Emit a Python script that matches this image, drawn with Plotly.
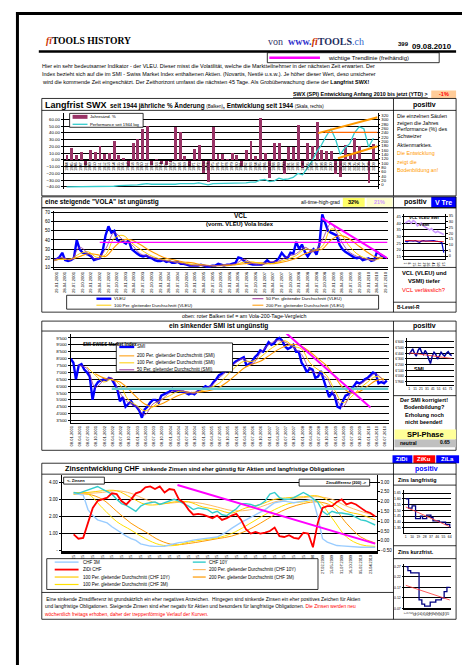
import plotly.graph_objects as go
import pandas as pd

# Page is rendered inside a browser body with 8px default margin -> compensate
W, H = 470, 668
OFF = 8
FW, FH = W - OFF, H - OFF

# ---------------- DATA ----------------
# Chart 1: Langfrist SWX (annual % change, performance line)
swx_years = list(range(1944, 2010))
swx_change = [6, 17, 7, 11, -8, 14, 11, 20, 8, 10,
              27, 6, 3, -10, 24, 30, 45, 50, -8, -2,
              -7, -8, -3, 48, 40, 5, -10, 16, 21, -20,
              -33, 48, 8, 8, -2, 10, 6, -10, 14, 28,
              5, 62, 10, -28, 25, 24, -22, 18, 18, 51,
              -12, 24, 20, 56, 14, 12, 12, -22, -26, 22,
              7, 32, 20, 0, -34, 23]
swx_perf = [-40, -40, -40, -40, -40, -40, -40, -40, -40, -39,
            -39, -38, -38, -38, -37, -37, -36, -35, -36, -36,
            -37, -37, -37, -36, -35, -35, -36, -35, -34, -35,
            -37, -35, -35, -35, -35, -35, -35, -35, -34, -33,
            -33, -30, -29, -32, -31, -27, -29, -28, -26, -20,
            -22, -12, -2, 12, 22, 35, 46, 30, 8, 18,
            24, 40, 49, 46, 19, 32]
swx_trend_up_x = [1997.3, 2009.9]
swx_trend_up_y = [238, 311]
swx_trend_lo_x = [2001.5, 2009.9]
swx_trend_lo_y = [123, 178]
swx_trend_h_x = [1998.7, 2009.9]
swx_trend_h_y = [242, 242]

# Chart 2: VCL (VLEU) monthly from Jan 2001
vleu = [18, 19, 21, 26, 18, 17, 18, 20, 40, 30, 26, 25,
        24, 22, 18, 19, 20, 28, 45, 55, 48, 50, 40, 38,
        38, 36, 40, 30, 27, 25, 23, 22, 23, 21, 20, 18,
        17, 17, 18, 16, 17, 15, 15, 16, 14, 14, 13, 12,
        12, 12, 12, 13, 12, 11, 11, 12, 12, 14, 13, 12,
        13, 13, 14, 15, 21, 20, 17, 15, 14, 13, 13, 13,
        13, 15, 18, 15, 15, 17, 20, 26, 22, 20, 26, 25,
        38, 30, 35, 27, 22, 27, 30, 24, 35, 68, 58, 50,
        48, 46, 45, 35, 30, 27, 25, 23, 21, 20, 21, 18,
        19, 20, 17, 18, 27, 24, 22, 21]
# quarterly moving averages from Jan 2001
vleu_ma50 = [18, 21, 18, 32, 25, 19, 30, 48, 40, 35, 25, 22, 19, 17, 16, 14,
             12, 12, 12, 12, 13, 14, 19, 14, 13, 16, 17, 22, 25, 32, 27, 40,
             58, 42, 28, 22, 19, 18, 24]
vleu_ma100 = [18, 19, 19, 25, 27, 21, 24, 42, 45, 37, 30, 24, 20, 18, 16, 15,
              13, 12, 12, 12, 13, 13, 16, 16, 14, 14, 16, 19, 23, 30, 29, 33,
              52, 48, 35, 25, 20, 18, 21]
vleu_ma200 = [18, 19, 19, 22, 25, 24, 22, 32, 40, 40, 35, 29, 24, 20, 18, 16,
              15, 13, 12, 12, 12, 13, 14, 15, 15, 14, 15, 17, 20, 25, 28, 30,
              40, 45, 42, 35, 28, 22, 20]
vcl_hline_x = ['2002-05-01', '2010-08-20']
vcl_hline_y = [37.5, 37.5]
vcl_trend_x = ['2008-09-27', '2010-08-20']
vcl_trend_y = [64, 20]

# Chart 3: SMI monthly from Jan 2001
smi = [8000, 7700, 6500, 7500, 7600, 7200, 7000, 6700, 5000, 6000, 6300, 6400,
       6500, 6400, 6600, 6500, 6200, 5800, 4900, 5200, 4500, 4700, 4900, 4600,
       4500, 4200, 3700, 4300, 4500, 4800, 5000, 5000, 4800, 5300, 5400, 5500,
       5600, 5800, 5600, 5700, 5600, 5600, 5500, 5400, 5500, 5400, 5600, 5700,
       5800, 6000, 5900, 6000, 6300, 6500, 6800, 6900, 7100, 7100, 7500, 7600,
       7800, 7900, 8000, 8100, 7500, 7600, 7800, 8100, 8300, 8600, 8500, 8800,
       9200, 9000, 9100, 9400, 9500, 9300, 8900, 8700, 8800, 9000, 8500, 8500,
       7700, 7400, 7000, 7300, 7200, 6600, 6700, 7100, 6500, 5800, 5200, 5500,
       5300, 4500, 4400, 4900, 5300, 5400, 5800, 6000, 6300, 6200, 6300, 6500,
       6600, 6800, 7000, 6900, 6200, 6300, 6200, 6400]
smi_ma200 = [6900, 6600, 6450, 6300, 5800, 5200, 4700, 4500, 4700, 5000, 5300, 5500,
             5550, 5600, 5700, 5900, 6300, 6800, 7300, 7600, 7800, 8200, 8600, 8900,
             9050, 8900, 8500, 8000, 7500, 6700, 5900, 5500, 5600, 6000, 6400, 6500]
smi_ma100 = [7400, 6800, 6300, 6500, 6100, 5000, 4600, 4200, 4500, 5000, 5300, 5600,
             5600, 5500, 5700, 5900, 6200, 6800, 7400, 7800, 7800, 8100, 8600, 9000,
             9300, 8900, 8700, 7700, 7200, 6800, 5700, 4800, 5200, 5800, 6300, 6700, 6500]
smi_ma50 = [7500, 7300, 5900, 6400, 6600, 5500, 4800, 4500, 3900, 4700, 5000, 5500,
            5700, 5600, 5500, 5800, 6000, 6600, 7100, 7700, 8000, 7600, 8400, 9000,
            9300, 9200, 8800, 8300, 7200, 6900, 6600, 5300, 4500, 5500, 6100, 6500, 6900, 6300]
smi_hline_x = ['2002-04-01', '2010-08-20']
smi_hline_y = [5800, 5800]
smi_trend_x = ['2007-06-01', '2010-02-01']
smi_trend_y = [10100, 4440]

# Chart 4: Zinsen CHF (64 observation points)
zins_idx = list(range(64))
zidi = [0.95, 0.7, 0.75, 1.6, 2.5, 2.9, 3.0, 3.1, 3.35, 3.3, 2.9, 2.7, 3.0, 3.35, 3.45, 3.7,
        3.75, 3.6, 3.75, 3.4, 3.6, 3.55, 3.0, 2.8, 2.4, 2.1, 2.15, 2.1, 2.0, 1.9, 2.05, 1.8,
        1.9, 2.05, 2.15, 1.8, 1.25, 1.0, 1.1, 1.0, 1.05, 1.15, 1.35, 0.85, 0.8, 0.9, 0.75, 0.7,
        1.05, 1.0, 0.2, 1.6, 2.5, 2.6, 2.6, 2.85, 3.0, 2.7, 2.8, 2.7, 2.5, 2.3, 2.2, 2.0]
chf10y = [3.4, 3.35, 3.45, 3.55, 3.65, 3.75, 3.6, 3.45, 3.3, 3.0, 2.75, 2.65, 2.5, 2.3, 2.6, 2.75,
          2.8, 2.85, 2.7, 2.8, 2.9, 3.0, 2.9, 2.75, 2.6, 2.4, 2.5, 2.45, 2.4, 2.2, 2.3, 2.1,
          2.05, 2.25, 2.45, 2.75, 2.75, 2.7, 2.6, 2.7, 2.9, 3.3, 3.4, 3.1, 3.0, 3.0, 3.1, 3.25,
          3.4, 3.25, 3.05, 2.85, 2.3, 2.1, 2.3, 2.2, 2.2, 2.15, 2.1, 1.95, 1.8, 1.75, 1.6, 1.5]
chf3m = [3.35, 3.3, 3.25, 2.4, 2.05, 1.8, 1.7, 1.62, 1.4, 1.2, 1.0, 0.85, 0.7, 0.6, 0.4, 0.33,
         0.27, 0.25, 0.25, 0.26, 0.33, 0.42, 0.47, 0.5, 0.57, 0.62, 0.66, 0.69, 0.72, 0.77, 0.8, 0.95,
         1.1, 1.3, 1.5, 1.65, 1.8, 1.95, 2.1, 2.25, 2.4, 2.6, 2.8, 2.85, 2.9, 2.85, 2.8, 2.85,
         2.9, 2.95, 3.0, 2.0, 0.7, 0.5, 0.4, 0.3, 0.28, 0.25, 0.25, 0.22, 0.2, 0.2, 0.2, 0.2]
zins_ma_idx = [0, 3, 6, 9, 12, 15, 18, 21, 24, 27, 30, 33, 36, 39, 42, 45, 48, 51, 54, 57, 60, 63]
ma100_10y = [3.4, 3.4, 3.5, 3.5, 3.1, 2.7, 2.7, 2.85, 2.85, 2.55, 2.4, 2.2, 2.5, 2.7, 3.0, 3.1,
             3.15, 3.2, 2.8, 2.3, 2.1, 1.8]
ma200_10y = [3.35, 3.35, 3.4, 3.5, 3.35, 3.0, 2.75, 2.8, 2.85, 2.75, 2.55, 2.35, 2.35, 2.55, 2.85,
             3.0, 3.1, 3.15, 3.0, 2.6, 2.3, 2.05]
ma100_3m = [3.3, 3.3, 2.5, 1.7, 1.2, 0.7, 0.35, 0.3, 0.5, 0.63, 0.75, 1.0, 1.45, 1.95, 2.4, 2.75,
            2.85, 2.9, 1.9, 0.8, 0.35, 0.25]
ma200_3m = [3.3, 3.3, 3.0, 2.3, 1.6, 1.1, 0.6, 0.35, 0.42, 0.55, 0.7, 0.85, 1.15, 1.6, 2.1, 2.5,
            2.75, 2.85, 2.6, 1.6, 0.8, 0.45]
zins_trend_x = [21.7, 63]
zins_trend_y = [2.85, -0.14]
zins_tickpos = list(range(0, 64, 2))
zins_ticktext = ['25'] * 25 + ['12.12.2008', '27.02.2009', '15.05.2009', '31.07.2009',
                               '16.10.2009', '05.02.2010', '23.04.2010']

# Small chart A: VCL / VSMI
a_idx = [1, 4, 7, 10, 13, 16, 19, 22, 25, 28, 31, 34, 37, 40, 43, 46, 49, 52, 55, 58]
a_vsmi = [40, 41, 42, 40, 42, 41, 38, 39, 40, 38, 37, 36, 35, 36, 34, 33, 34, 33, 32, 31.5]
a_vcl = [13, 12.5, 13.5, 13, 13, 13.5, 13, 12, 13, 13.5, 13, 13.2, 12.8, 13, 13.5, 13, 13, 12.5, 12, 3]
a_trend_x = [1, 58]
a_trend_y = [13.6, 12.6]
a_ticks = [1, 8, 15, 22, 29, 36, 43, 50, 57]

# Small chart B: SMI short term
b_idx = [1, 4, 7, 10, 13, 16, 19, 22, 25, 28, 31, 34, 37, 40, 43, 46, 49, 52, 55, 58, 61, 64, 67, 70, 73]
b_smi = [6380, 6420, 6480, 6400, 6350, 6450, 6500, 6420, 6380, 6450, 6400, 6300, 6220, 6350, 6420,
         6380, 6300, 6350, 6420, 6380, 6350, 6400, 6430, 6380, 6360]
b_trend_x = [1, 73]
b_trend_y = [6410, 6310]
b_ticks = [1, 11, 21, 31, 41, 51, 61, 71]

# Small chart C: Zins langfristig
c_idx = [1, 3, 5, 8, 10, 12, 15, 19, 22, 25, 28, 31, 34, 37, 40, 43, 46, 49, 52, 55, 58, 61, 64]
c_val = [1.60, 1.60, 1.52, 1.52, 1.54, 1.54, 1.43, 1.43, 1.45, 1.43, 1.43, 1.46, 1.46, 1.44, 1.41,
         1.41, 1.41, 1.40, 1.40, 1.40, 1.38, 1.38, 1.35]
c_trend_x = [1, 64]
c_trend_y = [1.53, 1.36]
c_ticks = [1, 10, 19, 28, 37, 46, 55, 64]

# Small chart D: Zins kurzfristig
d_idx = [1, 4, 8, 12, 16, 20, 24, 28, 32, 36, 40, 44, 48, 52, 56, 60, 64]
d_val = [0.27, 0.25, 0.24, 0.24, 0.24, 0.11, 0.09, 0.08, 0.08, 0.10, 0.10, 0.11, 0.11, 0.12,
         0.15, 0.17, 0.17]
d_trend_x = [1, 64]
d_trend_y = [0.18, 0.11]
d_ticks = [1, 5, 9, 13, 17, 21, 25, 29, 33, 37, 41, 45, 49, 53, 57, 61]

# ---------------- HELPERS ----------------
FONT = 'Liberation Sans'
SERIF = 'Liberation Serif'


def PXn(x):
    return (x - OFF) / FW


def PYn(y):
    return 1 - (y - OFF) / FH


def DX(a, b):
    return [PXn(a), PXn(b)]


def DY(top, bottom):
    return [PYn(bottom), PYn(top)]


shapes = []
annotations = []


def line(x0, y0, x1, y1, color='black', width=0.8):
    shapes.append(dict(type='line', xref='paper', yref='paper', x0=PXn(x0), y0=PYn(y0),
                       x1=PXn(x1), y1=PYn(y1), line=dict(color=color, width=width)))


def rect(x0, y0, x1, y1, color='black', width=0.8, fill='rgba(0,0,0,0)'):
    shapes.append(dict(type='rect', xref='paper', yref='paper', x0=PXn(x0), y0=PYn(y0),
                       x1=PXn(x1), y1=PYn(y1), fillcolor=fill,
                       line=dict(color=color, width=width)))


def text(x, y, s, size=5, color='black', anchor='left', family=FONT):
    annotations.append(dict(xref='paper', yref='paper', x=PXn(x), y=PYn(y), text=s,
                            showarrow=False, xanchor=anchor, yanchor='middle', borderpad=0,
                            font=dict(size=size, color=color, family=family)))


def tf(size=4.3):
    return dict(family=FONT, size=size, color='black')


fig = go.Figure()

# ---------------- CHART 1 ----------------
fig.add_trace(go.Bar(x=swx_years, y=swx_change, width=0.62,
                     marker=dict(color='#993366', line=dict(width=0)), xaxis='x', yaxis='y'))
fig.add_trace(go.Scatter(x=swx_years, y=swx_perf, mode='lines',
                         line=dict(color='#33CCCC', width=1.3), xaxis='x', yaxis='y'))
for tx, ty, col, w in [(swx_trend_up_x, swx_trend_up_y, '#FF9900', 2),
                       (swx_trend_lo_x, swx_trend_lo_y, '#FF9900', 2),
                       (swx_trend_h_x, swx_trend_h_y, '#FF6600', 1.2)]:
    fig.add_trace(go.Scatter(x=tx, y=ty, mode='lines', line=dict(color=col, width=w),
                             xaxis='x', yaxis='y2'))

# ---------------- CHART 2 (VCL) ----------------
vcl_months = pd.date_range('2001-01-01', periods=len(vleu), freq='MS').strftime('%Y-%m-%d').tolist()
vcl_quarters = pd.date_range('2001-01-01', periods=len(vleu_ma50), freq='QS').strftime('%Y-%m-%d').tolist()
fig.add_trace(go.Scatter(x=vcl_months, y=vleu, mode='lines', line=dict(color='#0000FF', width=2.4),
                         xaxis='x2', yaxis='y3'))
for arr, col, w in [(vleu_ma200, '#FF9900', 1.1), (vleu_ma100, '#FFCC00', 1.0), (vleu_ma50, '#993399', 0.8)]:
    fig.add_trace(go.Scatter(x=vcl_quarters, y=arr, mode='lines', line=dict(color=col, width=w, shape='spline'),
                             xaxis='x2', yaxis='y3'))
fig.add_trace(go.Scatter(x=vcl_hline_x, y=vcl_hline_y, mode='lines', line=dict(color='#FF00FF', width=1.3),
                         xaxis='x2', yaxis='y3'))
fig.add_trace(go.Scatter(x=vcl_trend_x, y=vcl_trend_y, mode='lines', line=dict(color='#FF00FF', width=2),
                         xaxis='x2', yaxis='y3'))

# ---------------- CHART 3 (SMI) ----------------
smi_months = pd.date_range('2001-01-01', periods=len(smi), freq='MS').strftime('%Y-%m-%d').tolist()
fig.add_trace(go.Scatter(x=smi_months, y=smi, mode='lines', line=dict(color='#0000FF', width=2.4),
                         xaxis='x3', yaxis='y4'))
for arr, start, col, w in [(smi_ma200, '2001-10-01', '#FF9900', 1.1),
                           (smi_ma100, '2001-07-01', '#FFCC00', 1.0),
                           (smi_ma50, '2001-04-01', '#993399', 0.8)]:
    dts = pd.date_range(start, periods=len(arr), freq='QS').strftime('%Y-%m-%d').tolist()
    fig.add_trace(go.Scatter(x=dts, y=arr, mode='lines', line=dict(color=col, width=w, shape='spline'),
                             xaxis='x3', yaxis='y4'))
fig.add_trace(go.Scatter(x=smi_hline_x, y=smi_hline_y, mode='lines', line=dict(color='#66CCCC', width=2.5),
                         xaxis='x3', yaxis='y4'))
fig.add_trace(go.Scatter(x=smi_trend_x, y=smi_trend_y, mode='lines', line=dict(color='#FF00FF', width=2),
                         xaxis='x3', yaxis='y4'))

# ---------------- CHART 4 (Zinsen) ----------------
for arr, col, w in [(ma200_3m, '#FF9900', 1.0), (ma100_3m, '#FFE000', 1.0),
                    (ma200_10y, '#FFBB66', 1.0), (ma100_10y, '#FFCC00', 1.0)]:
    fig.add_trace(go.Scatter(x=zins_ma_idx, y=arr, mode='lines', line=dict(color=col, width=w, shape='spline'),
                             xaxis='x4', yaxis='y5'))
fig.add_trace(go.Scatter(x=zins_idx, y=chf3m, mode='lines', line=dict(color='#99CCFF', width=1.4),
                         xaxis='x4', yaxis='y5'))
fig.add_trace(go.Scatter(x=zins_idx, y=chf10y, mode='lines', line=dict(color='#33CCCC', width=1.4),
                         xaxis='x4', yaxis='y5'))
fig.add_trace(go.Scatter(x=zins_idx, y=zidi, mode='lines', line=dict(color='#FF0000', width=1.8),
                         xaxis='x4', yaxis='y5'))
fig.add_trace(go.Scatter(x=zins_trend_x, y=zins_trend_y, mode='lines', line=dict(color='#FF00FF', width=2),
                         xaxis='x4', yaxis='y6'))

# ---------------- SMALL CHARTS ----------------
fig.add_trace(go.Scatter(x=a_idx, y=a_vsmi, mode='lines', line=dict(color='#CC99FF', width=1.6),
                         xaxis='x5', yaxis='y7'))
fig.add_trace(go.Scatter(x=a_idx, y=a_vcl, mode='lines', line=dict(color='#0000CC', width=1.2),
                         xaxis='x5', yaxis='y8'))
fig.add_trace(go.Scatter(x=a_trend_x, y=a_trend_y, mode='lines', line=dict(color='#FF0000', width=0.8),
                         xaxis='x5', yaxis='y8'))
fig.add_trace(go.Scatter(x=b_idx, y=b_smi, mode='lines', line=dict(color='#000099', width=1.5),
                         xaxis='x6', yaxis='y9'))
fig.add_trace(go.Scatter(x=b_trend_x, y=b_trend_y, mode='lines', line=dict(color='#FF3333', width=0.8),
                         xaxis='x6', yaxis='y9'))
fig.add_trace(go.Scatter(x=c_idx, y=c_val, mode='lines', line=dict(color='#000080', width=1.3, shape='hv'),
                         xaxis='x7', yaxis='y10'))
fig.add_trace(go.Scatter(x=c_trend_x, y=c_trend_y, mode='lines', line=dict(color='#FF3333', width=0.8),
                         xaxis='x7', yaxis='y10'))
fig.add_trace(go.Scatter(x=d_idx, y=d_val, mode='lines', line=dict(color='#000080', width=1.3, shape='hv'),
                         xaxis='x8', yaxis='y11'))
fig.add_trace(go.Scatter(x=d_trend_x, y=d_trend_y, mode='lines', line=dict(color='#FF3333', width=0.8),
                         xaxis='x8', yaxis='y11'))

# ---------------- AXES ----------------
base_x = dict(showgrid=False, zeroline=False, showline=True, linecolor='black', linewidth=0.8,
              ticks='', fixedrange=True)
base_y = dict(showgrid=True, gridcolor='black', gridwidth=0.6, zeroline=False, showline=True,
              linecolor='black', linewidth=0.8, ticks='outside', ticklen=2, tickwidth=0.6,
              tickcolor='black', fixedrange=True)

layout_axes = dict(
    xaxis=dict(base_x, domain=DX(62, 378), range=[1943.37, 2009.9], anchor='free',
               position=PYn(159.8), tickvals=swx_years, ticktext=[str(y) for y in swx_years],
               tickangle=-90, tickfont=tf(3.8)),
    yaxis=dict(base_y, domain=DY(113, 189), range=[-42.9, 68.8], anchor='x',
               tickvals=list(range(-40, 70, 10)), tickformat='.2f', tickfont=tf(4.3)),
    yaxis2=dict(base_y, overlaying='y', side='right', anchor='x', range=[-18.3, 329],
                tickvals=list(range(0, 340, 20)), showgrid=False, tickfont=tf(4.2)),
    xaxis2=dict(base_x, domain=DX(52, 388), anchor='y3', type='date',
                range=['2001-01-01', '2010-08-20'], tick0='2001-01-29', dtick='M3',
                tickformat='%d.%m.%Y', tickangle=-90, tickfont=tf(4.2)),
    yaxis3=dict(base_y, domain=DY(211, 270), anchor='x2', range=[7.8, 72],
                tickvals=list(range(10, 80, 10)), tickfont=tf(4.5)),
    xaxis3=dict(base_x, domain=DX(69, 389), anchor='y4', type='date',
                range=['2001-01-01', '2010-08-20'], tick0='2001-01-08', dtick='M3',
                tickformat='%d.%m.%Y', tickangle=-90, tickfont=tf(4.1)),
    yaxis4=dict(base_y, domain=DY(335, 425), anchor='x3', range=[3283, 9789],
                tickvals=list(range(3500, 10000, 500)), tickformat=',d', tickfont=tf(4.4)),
    xaxis4=dict(base_x, domain=DX(60, 377), anchor='y5', range=[-2.5, 63.3],
                tickvals=zins_tickpos, ticktext=zins_ticktext, tickangle=-90, tickfont=tf(3.8),
                linewidth=2.5),
    yaxis5=dict(base_y, domain=DY(477, 553), anchor='x4', range=[0, 4.41],
                tickvals=[0, 1, 2, 3, 4], ticktext=['-', '1.00', '2.00', '3.00', '4.00'],
                tickfont=tf(4.5)),
    yaxis6=dict(base_y, overlaying='y5', side='right', anchor='x4', range=[-0.5, 3.355],
                tickvals=[-0.5, 0, 0.5, 1, 1.5, 2, 2.5, 3], tickformat='.2f', showgrid=False,
                tickfont=tf(4.5)),
    xaxis5=dict(base_x, domain=DX(405, 446), anchor='y7', range=[0, 60], tickvals=a_ticks,
                tickfont=tf(3.2)),
    yaxis7=dict(base_y, domain=DY(214, 260), anchor='x5', range=[13, 47],
                tickvals=list(range(15, 50, 5)), tickfont=tf(3.8)),
    yaxis8=dict(base_y, overlaying='y7', side='right', anchor='x5', range=[-3, 37],
                tickvals=list(range(0, 40, 5)), showgrid=False, tickfont=tf(3.8)),
    xaxis6=dict(base_x, domain=DX(408, 455), anchor='y9', range=[-2, 77], tickvals=b_ticks,
                tickfont=tf(3.4)),
    yaxis9=dict(base_y, domain=DY(339, 386), anchor='x6', range=[5847, 6670],
                tickvals=list(range(5900, 6700, 100)), tickformat=',d', tickfont=tf(3.5)),
    xaxis7=dict(base_x, domain=DX(405, 452), anchor='y10', range=[-1, 66], tickvals=c_ticks,
                tickfont=tf(3.4)),
    yaxis10=dict(base_y, domain=DY(492, 535), anchor='x7', range=[1.307, 1.676],
                 tickvals=[1.35, 1.40, 1.45, 1.50, 1.55, 1.60, 1.65], tickformat='.2f',
                 tickfont=tf(3.5)),
    xaxis8=dict(base_x, domain=DX(405, 452), anchor='y11', range=[-1, 66], tickvals=d_ticks,
                tickfont=tf(3.0)),
    yaxis11=dict(base_y, domain=DY(566, 612), anchor='x8', range=[0.065, 0.284],
                 tickvals=[0.07, 0.12, 0.17, 0.22, 0.27], tickformat='.2f', tickfont=tf(3.5)),
)

# ---------------- PAGE FRAME / BOXES ----------------
line(14, 12.5, 470, 12.5, width=3)
line(15.5, 11, 15.5, 668, width=3)
line(37, 50.7, 457, 50.7, width=2.5)
rect(267, 52, 440, 62)
line(269, 57, 320, 57, '#FF00FF', 2.5)
rect(432, 90, 457, 98, width=0, fill='#FFCC99')

# Section 1
rect(40, 98, 457, 196)
line(40, 110, 457, 110)
line(394, 98, 394, 196)
rect(68, 113, 142, 127, fill='white')
rect(71, 114.5, 86, 118.5, width=0, fill='#993366')
line(71, 124, 86, 124, '#33CCCC', 1.3)

# Section 2
rect(343, 198, 365, 207, width=0, fill='#FFFF66')
rect(367, 198, 393, 207, width=0, fill='#FFFFCC')
rect(432, 197, 457, 208, width=0, fill='#0000FF')
rect(40, 197, 457, 208)
rect(40, 208, 457, 313)
line(394, 197, 394, 313)
line(394, 268, 457, 268)
line(394, 303, 457, 303)
rect(65, 296, 379, 310, fill='white')
line(95, 299.5, 110, 299.5, '#0000FF', 2.4)
line(252, 299.5, 263, 299.5, '#993399', 1)
line(95, 306, 110, 306, '#FFCC00', 1)
line(252, 306, 263, 306, '#FF9900', 1)

# Section 3
rect(40, 322, 457, 452)
line(40, 332, 457, 332)
line(394, 322, 394, 452)
line(394, 397, 457, 397)
rect(395, 431, 457, 441, width=0, fill='#FFFF99')
rect(395, 441, 457, 449, width=0, fill='#C0C0C0')
rect(115, 344, 232, 373, fill='white')
line(118, 348, 133, 348, '#0000FF', 2.4)
line(118, 357, 133, 357, '#FF9900', 1)
line(118, 364, 133, 364, '#FFCC00', 1)
line(118, 371, 133, 371, '#993399', 1)

# Section 4
rect(393, 457, 413, 465, width=0, fill='#0000FF')
rect(414, 457, 436, 465, width=0, fill='#FF0000')
rect(437, 457, 460, 465, width=0, fill='#0000FF')
rect(40, 465, 457, 622)
line(40, 476, 457, 476)
line(394, 465, 394, 622)
line(40, 595, 394, 595)
line(394, 487, 457, 487)
line(394, 548, 457, 548)
line(394, 561, 457, 561)
rect(62, 479, 103, 486, fill='white')
rect(299, 481, 370, 488, fill='white')
rect(45, 561, 318, 592, fill='white')
line(53, 564.5, 77, 564.5, '#99CCFF', 1.4)
line(192, 564.5, 205, 564.5, '#33CCCC', 1.4)
line(53, 572, 77, 572, '#FF0000', 1.8)
line(192, 572, 205, 572, '#FFBB66', 1.2)
line(53, 579.5, 77, 579.5, '#FFCC00', 1.2)
line(192, 579.5, 205, 579.5, '#FF9900', 1.2)
line(53, 587, 77, 587, '#FFE000', 1.2)

# ---------------- TEXT ----------------
text(43, 40, "<b><i><span style='color:#CC3300'>fi</span></i>TOOLS HISTORY</b>", 9.6, family=SERIF)
text(267, 41, "<span style='color:#333366'>von </span> <b><span style='color:#3333CC'>www.</span>"
     "<i><span style='color:#CC3300'>fi</span></i><span style='color:#1F2F5F'>TOOLS</span></b>"
     "<span style='color:#3366CC'>.ch</span>", 10, family=SERIF)
text(398, 43, "<b>399</b>", 6)
text(412, 46, "<b>09.08.2010</b>", 7.8)
text(327, 57, "wichtige Trendlinie (freihändig)", 5.9)
text(39, 65, "Hier ein sehr bedeutsamer Indikator - der VLEU. Dieser misst die Volatilität, welche die "
             "Marktteilnehmer in der nächsten Zeit erwarten. Der", 5.45)
text(39, 73, "Index bezieht sich auf die im SMI - Swiss Market Index enthaltenen Aktien. (Novartis, "
             "Nestlé u.s.w.). Je höher dieser Wert, deso unsicherer", 5.45)
text(39, 81, "wird die kommende Zeit eingeschätzt. Der Zeithorizont umfasst die nächsten 45 Tage. Als "
             "Grobüberwachung diene der <b>Langfrist SWX!</b>", 5.45)
text(430, 94, "<b><u>SWX (SPI) Entwicklung Anfang 2010 bis jetzt (YTD) &gt;</u></b>", 5.4, anchor='right')
text(444.5, 94, "<b>-1%</b>", 5.5, '#FF0000', anchor='center')

# Section 1 texts
text(42, 104.5, "<b><span style='font-size:9px'>Langfrist SWX</span>  seit 1944 jährliche % Änderung </b>"
                "<span style='font-size:4.5px'>(Balken)</span><b>, Entwicklung seit 1944 </b>"
                "<span style='font-size:4.5px'>(Skala, rechts)</span>", 6.4)
text(425, 104.5, "<b>positiv</b>", 7, anchor='center')
for yy, s in zip([116, 122.5, 129, 136, 145], ["Die einzelnen Säulen", "zeigen die Jahres",
                                               "Performance (%) des", "Schweizer", "Aktienmarktes."]):
    text(397, yy, s, 5.3)
for yy, s in zip([153, 161.5, 170], ["Die Entwicklung", "zeigt die", "Bodenbildung an!"]):
    text(397, yy, s, 5.3, '#FF9900')
text(88, 116.5, "Jahresänd. %", 4.2)
text(88, 124, "Performance seit 1944 log", 4.2)

# Section 2 texts
text(42, 202.5, "<b>eine steigende \"VOLA\" ist ungünstig</b>", 6.5)
text(341, 202.5, "all-time-high-grad", 5, anchor='right')
text(354, 202.5, "<b>32%</b>", 5.5, anchor='center')
text(380, 202.5, "<b>21%</b>", 5.5, '#CC99FF', anchor='center')
text(416, 202.5, "<b>positiv</b>", 7, anchor='center')
text(444.5, 202.5, "<b>V Tre</b>", 7, 'white', anchor='center')
text(240, 216, "<b>VCL</b>", 6.5, anchor='center')
text(240, 224, "<b>(vorm. VLEU) Vola Index</b>", 5.8, anchor='center')
text(425, 217.5, "<b>VCL VLEU SWI</b>", 4.2, anchor='center')
text(425, 224.5, "<b>VSMI</b>", 4.2, anchor='center')
text(425, 274, "<b>VCL (VLEU) und</b>", 5.8, anchor='center')
text(425, 282, "<b>VSMI) tiefer</b>", 5.8, anchor='center')
text(425, 291, "VCL verlässlich?", 5.8, '#FF0000', anchor='center')
text(397, 308, "<b>B-Level-R</b>", 4.8)
text(112, 299.5, "VLEU", 4.4)
text(265, 299.5, "50 Per. gleitender Durchschnitt (VLEU)", 4.4)
text(112, 306, "100 Per. gleitender Durchschnitt (VLEU)", 4.4)
text(265, 306, "200 Per. gleitender Durchschnitt (VLEU)", 4.4)
text(180, 316.5, "oben: roter Balken tief = am Vola-200-Tage-Vergleich", 5.3)

# Section 3 texts
text(218, 327, "<b>ein sinkender SMI ist ungünstig</b>", 6.6, anchor='center')
text(425, 327, "<b>positiv</b>", 7, anchor='center')
text(80, 346, "<b>SMI SWISS Market Index</b>", 4.6)
text(135, 348, "SMI", 4.6)
text(135, 357, "200 Per. gleitender Durchschnitt (SMI)", 4.6)
text(135, 364, "100 Per. gleitender Durchschnitt (SMI)", 4.6)
text(135, 371, "50 Per. gleitender Durchschnitt (SMI)", 4.6)
text(420, 370, "<b>SMI</b>", 5.5, anchor='center')
for yy, s in zip([401, 408.5, 416.5, 424], ["Der SMI korrigiert!", "Bodenbildung?",
                                            "Erholung noch", "nicht beendet!"]):
    text(425, yy, "<b>" + s + "</b>", 5.5, anchor='center')
text(426, 436, "<b>SPI-Phase</b>", 7.5, anchor='center')
text(400, 445, "<b>neutral</b>", 5)
text(452, 444, "<b>0.65</b>", 5, anchor='right')

# Section 4 texts
text(403, 461, "<b>ZiDi</b>", 6, 'white', anchor='center')
text(425, 461, "<b>ZiKu</b>", 6, 'white', anchor='center')
text(448.5, 461, "<b>ZiLa</b>", 6, 'white', anchor='center')
text(62, 470.5, "<b><span style='font-size:7.3px'>Zinsentwicklung CHF</span>  sinkende Zinsen sind eher "
                "günstig für Aktien und langfristige Obligationen</b>", 5.7)
text(427, 470.5, "<b>positiv</b>", 7, '#0000FF', anchor='center')
text(398, 481.5, "<b>Zins langfristig</b>", 5.4)
text(398, 554.5, "<b>Zins kurzfrist.</b>", 5.4)
text(64, 482.5, "<b>&lt;- Zinsen</b>", 4)
text(368, 484.5, "<b>Zinsdifferenz (200) -&gt;</b>", 4, anchor='right')
text(80, 564.5, "CHF 3M", 4.5)
text(207, 564.5, "CHF 10Y", 4.5)
text(80, 572, "ZiDi CHF", 4.5)
text(207, 572, "200 Per. gleitender Durchschnitt (CHF 10Y)", 4.5)
text(80, 579.5, "100 Per. gleitender Durchschnitt (CHF 10Y)", 4.5)
text(207, 579.5, "200 Per. gleitender Durchschnitt (CHF 3M)", 4.5)
text(80, 587, "100 Per. gleitender Durchschnitt (CHF 3M)", 4.5)
text(42, 602, " Eine sinkende Zinsdifferenz ist grundsätzlich ein eher negatives Anzeichen.  Hingegen sind "
              "sinkende Zinsen ein eher positives Zeichen für Aktien", 4.9)
text(42, 609.5, "und langfristige Obligationen. Steigende Zinsen sind eher negativ für Aktien und besonders "
                "für langfristige Obligationen. <span style='color:#FF0000'>Die Zinsen werden neu</span>", 4.9)
text(42, 617, "<span style='color:#FF0000'>wöchentlich freitags erhoben, daher der treppenförmige Verlauf "
              "der Kurven.</span>", 4.9)

fig.update_layout(
    width=FW, height=FH, margin=dict(l=0, r=0, t=0, b=0),
    paper_bgcolor='white', plot_bgcolor='white', showlegend=False, hovermode=False,
    separators=".'", bargap=0, font=dict(family=FONT, color='black'),
    shapes=shapes, annotations=annotations, **layout_axes
)

fig.write_html("out.html")
